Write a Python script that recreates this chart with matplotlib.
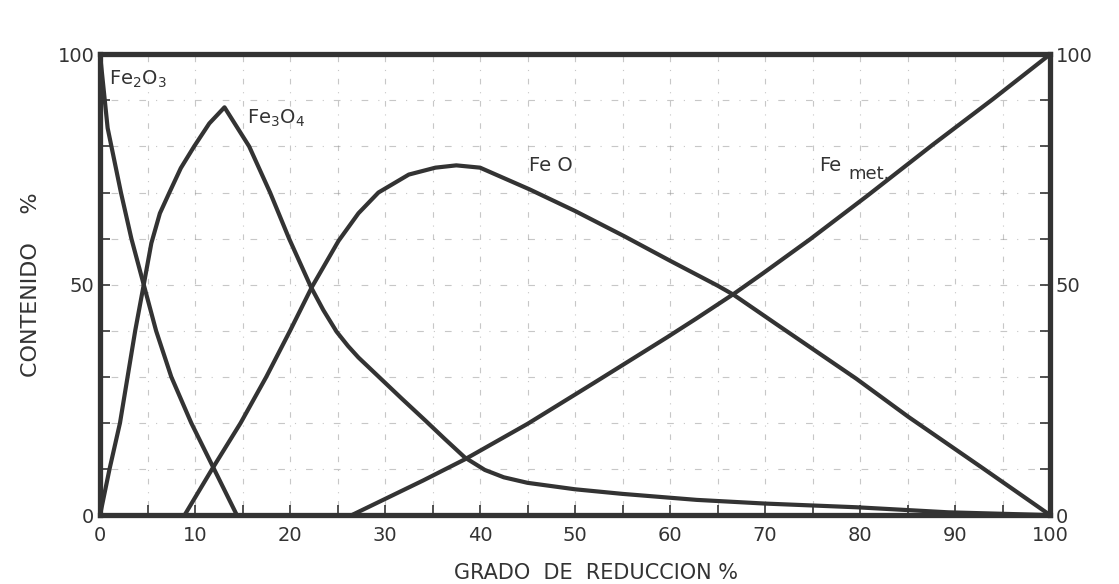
import matplotlib
matplotlib.use("Agg")
import matplotlib.pyplot as plt
import numpy as np

# ---- data ----
fe2o3_x = [0, 0.8, 2.2, 3.3, 4.6, 5.9, 7.5, 9.6, 12.0, 14.4]
fe2o3_y = [100, 84, 70, 60, 50, 40, 30, 20, 10, 0]

fe3o4_x = [0, 1.0, 2.1, 2.9, 3.7, 4.6, 5.4, 6.3, 7.3, 8.5, 9.9, 11.5, 13.1, 15.7, 17.9, 19.9,
           22.2, 23.5, 24.9, 26.1, 27.2, 29.5, 31.8, 34.2, 36.3, 38.4, 40.5, 42.5, 45, 50,
           55, 62.8, 70, 79.6, 89.3, 100]
fe3o4_y = [0, 10, 20, 30, 40, 50, 59, 65.5, 70, 75.3, 80, 85, 88.5, 80, 70, 60,
           49.5, 44.5, 39.8, 36.7, 34.2, 29.7, 25.2, 20.6, 16.5, 12.5, 9.8, 8.2, 7.0, 5.6,
           4.6, 3.3, 2.5, 1.7, 0.6, 0]

feo_x = [8.9, 11.8, 14.8, 17.5, 20.0, 22.3, 25.1, 27.2, 29.3, 32.5, 35.3, 37.5, 40, 45.2,
         50, 55.2, 60, 65, 66.7, 69.1, 71.5, 79.6, 85.1, 92.9, 100]
feo_y = [0, 10, 20, 30, 40, 49.5, 59.5, 65.5, 70, 73.9, 75.4, 75.9, 75.4, 70.7,
         66, 60.5, 55.2, 49.8, 47.8, 44.4, 41, 29.6, 21.3, 10.2, 0]

femet_x = [26.5, 29.6, 34, 38.4, 45, 52, 59.7, 62.8, 66.7, 69.8, 74.7, 80.7, 87.6, 94, 100]
femet_y = [0, 3.1, 7.5, 12.1, 19.8, 28.7, 38.6, 42.7, 48, 52.5, 59.8, 69.2, 80.3, 90.3, 100]

xticks = [0, 10, 20, 30, 40, 50, 60, 70, 80, 90, 100]
yticks = [0, 50, 100]

ink = "#333333"
plt.rcParams['font.family'] = ['DejaVu Sans']

fig = plt.figure(figsize=(11.19, 5.84), dpi=100)
ax = fig.add_axes([0.0894, 0.118, 0.849, 0.789])
ax.set_xlim(0, 100)
ax.set_ylim(0, 100)

# faint hand-drawn-like grid
for gx in np.arange(5, 100, 5):
    ax.axvline(gx, color="#999999", lw=0.8, ls=(0, (1, 7, 5, 7)), alpha=0.55, zorder=1)
for gy in np.arange(10, 100, 10):
    ax.axhline(gy, color="#999999", lw=0.8, ls=(0, (1, 9, 6, 9)), alpha=0.55, zorder=1)

lw = 3.0
for xs, ys in [(fe2o3_x, fe2o3_y), (fe3o4_x, fe3o4_y), (feo_x, feo_y), (femet_x, femet_y)]:
    ax.plot(xs, ys, color=ink, lw=lw, solid_joinstyle='round', solid_capstyle='round',
            zorder=3, clip_on=False)

for s in ax.spines.values():
    s.set_linewidth(3.8)
    s.set_color(ink)

ax.set_xticks(xticks)
ax.set_xticklabels([str(t) for t in xticks], fontsize=14, color=ink)
ax.set_xticks(np.arange(5, 100, 10), minor=True)
ax.set_yticks(yticks)
ax.set_yticklabels([str(t) for t in yticks], fontsize=14, color=ink)
ax.set_yticks([10, 20, 30, 40, 60, 70, 80, 90], minor=True)
ax.tick_params(axis='both', which='both', direction='in', length=7, width=1.2, color=ink)
ax.tick_params(axis='x', pad=8)
ax.tick_params(axis='y', pad=4, right=True, labelright=True)
ax.tick_params(axis='y', which='minor', right=True)

ax.set_xlabel("GRADO  DE  REDUCCION %", fontsize=15, color=ink, labelpad=10)
ax.xaxis.set_label_coords(0.522, -0.105)
ax.set_ylabel("CONTENIDO    %", fontsize=16, color=ink, labelpad=12)

# curve labels
ax.text(0.9, 94.5, r"Fe$_2$O$_3$", fontsize=14, color=ink, va='center', ha='left')
ax.text(15.5, 86, r"Fe$_3$O$_4$", fontsize=14, color=ink, va='center', ha='left')
ax.text(45.2, 75.8, "Fe O", fontsize=14, color=ink, va='center', ha='left')
ax.text(75.7, 75.8, "Fe", fontsize=14, color=ink, va='center', ha='left')
ax.text(78.8, 74.0, "met.", fontsize=13, color=ink, va='center', ha='left')

fig.savefig("out.png", dpi=100, facecolor="white")
